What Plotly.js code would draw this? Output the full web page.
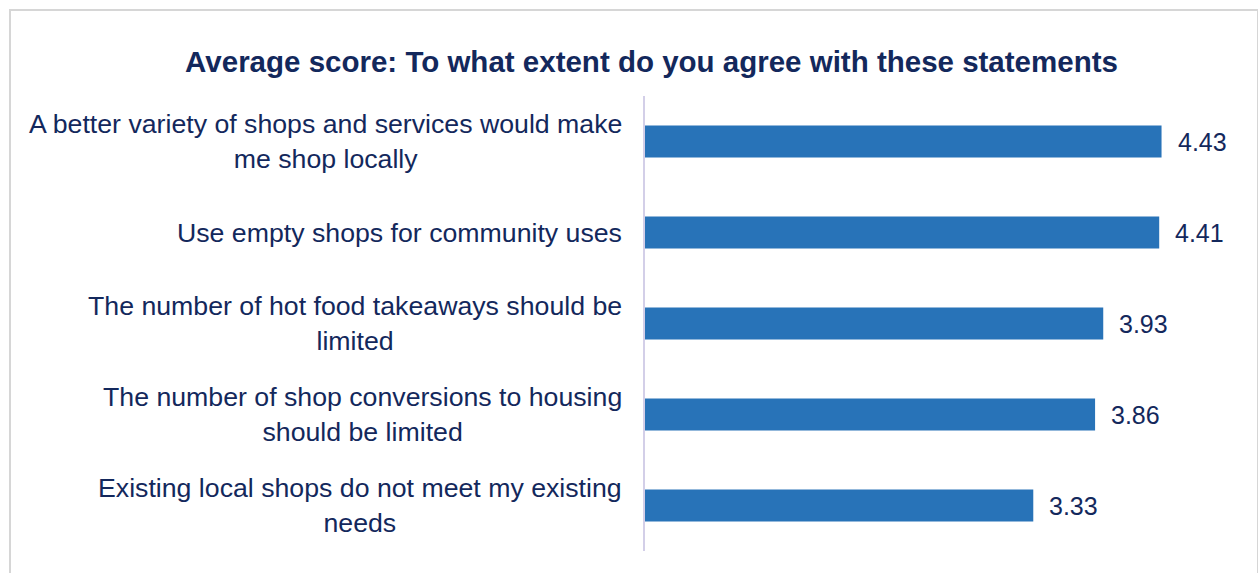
<!DOCTYPE html>
<html>
<head>
<meta charset="utf-8">
<script src="https://cdn.plot.ly/plotly-3.0.1.min.js"></script>
<style>
html,body{margin:0;padding:0;background:#fff;}
#wrap{position:relative;width:1258px;height:573px;overflow:hidden;}
#chart{position:absolute;left:0;top:0;width:1258px;height:573px;}
#frame{position:absolute;left:9px;top:9px;width:1246px;height:600px;border:2px solid #d6d6d6;pointer-events:none;}
</style>
</head>
<body>
<div id="wrap"><div id="chart"></div><div id="frame"></div></div>
<script>
const titleText = "Average score: To what extent do you agree with these statements";
const categories = [
  "A better variety of shops and services would make<br>me shop locally",
  "Use empty shops for community uses",
  "The number of hot food takeaways should be<br>limited",
  "The number of shop conversions to housing<br>should be limited",
  "Existing local shops do not meet my existing<br>needs"
];
const scores = [4.43, 4.41, 3.93, 3.86, 3.33];
const scoreLabels = ["4.43", "4.41", "3.93", "3.86", "3.33"];

const navy = "#13285c";
const fontFam = "Liberation Sans, Arial, sans-serif";
const trace = {
  type: "bar",
  orientation: "h",
  y: categories,
  x: scores,
  marker: {color: "#2873b8"},
  width: 0.35,
  hoverinfo: "none"
};
const annotations = [];
categories.forEach((c, i) => {
  annotations.push({
    xref: "paper", x: 0, xanchor: "right", xshift: -21,
    yref: "y", y: c, yanchor: "middle",
    text: c, align: "center", showarrow: false,
    font: {family: fontFam, size: 26.7, color: navy}
  });
  annotations.push({
    xref: "x", x: scores[i], xanchor: "left", xshift: 14,
    yref: "y", y: c, yanchor: "middle",
    text: scoreLabels[i], showarrow: false,
    font: {family: fontFam, size: 25, color: navy}
  });
});
const layout = {
  width: 1258, height: 573,
  margin: {l: 645, r: 30, t: 96, b: 22, pad: 0},
  paper_bgcolor: "rgba(0,0,0,0)",
  plot_bgcolor: "rgba(0,0,0,0)",
  showlegend: false,
  title: {
    text: "<b>" + titleText + "</b>",
    font: {family: fontFam, size: 29.5, color: navy},
    x: 651.5/1258, xref: "container", xanchor: "center",
    y: 1 - 62/573, yref: "container", yanchor: "middle"
  },
  xaxis: {
    range: [0, 5], showgrid: false, zeroline: false, showline: false,
    showticklabels: false, ticks: "", fixedrange: true
  },
  yaxis: {
    autorange: "reversed", showgrid: false, zeroline: false,
    showline: true, linecolor: "#d3cfe8", linewidth: 2,
    ticks: "", showticklabels: false, fixedrange: true
  },
  annotations: annotations
};
Plotly.newPlot("chart", [trace], layout, {staticPlot: true, displayModeBar: false});
</script>
</body>
</html>
